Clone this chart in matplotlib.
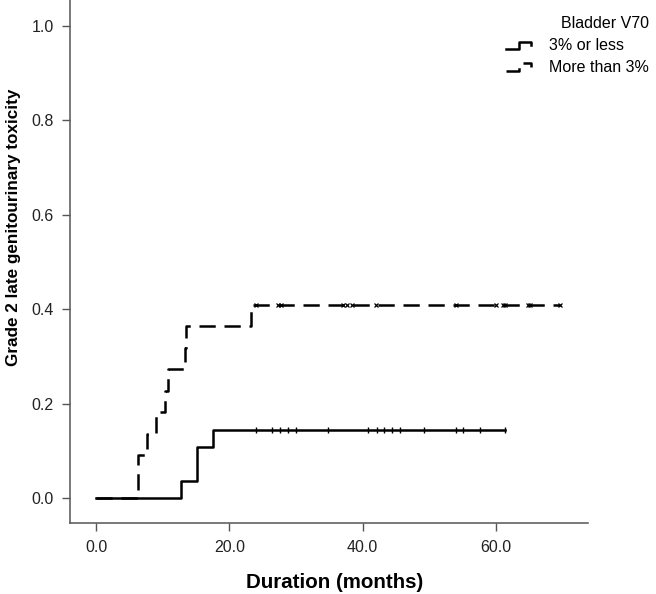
import numpy as np
import matplotlib.pyplot as plt
from matplotlib.lines import Line2D
from matplotlib.legend_handler import HandlerBase

plt.rcParams['font.family'] = ['Liberation Sans', 'DejaVu Sans']

# cumulative incidence, Bladder V70 <= 3%
low_t = [0, 12.7, 15.2, 17.6]
low_p = [0, 0.036, 0.107, 0.143]
low_end = 61.35
low_cens = [24.0, 26.35, 27.6, 28.85, 30.0, 34.85, 40.85, 42.1, 43.25,
            44.45, 45.6, 49.2, 53.95, 55.1, 57.6, 61.35]

# cumulative incidence, Bladder V70 > 3%
high_t = [0, 6.25, 7.6, 8.95, 10.3, 10.85, 13.3, 13.5, 23.25]
high_p = [0, 0.091, 0.136, 0.182, 0.227, 0.273, 0.318, 0.364, 0.409]
high_end = 69.6
high_cens = [24.0, 27.35, 27.75, 37.1, 37.6, 38.35, 42.0, 53.95, 60.0,
             61.1, 61.35, 64.85, 65.2, 69.6]

labels = ['3% or less', 'More than 3%']
xticks = [0, 20, 40, 60]
yticks = [0.0, 0.2, 0.4, 0.6, 0.8, 1.0]


def step_at(t, times, vals):
    # value of the step function at time t
    idx = np.searchsorted(times, t, side='right') - 1
    return np.array(vals)[idx]


class StepHandler(HandlerBase):
    # little step drawn in the legend, like the original
    def create_artists(self, legend, orig_handle, xdescent, ydescent,
                       width, height, fontsize, trans):
        x0, y0 = -xdescent, -ydescent
        xs = [x0, x0 + 0.5 * width, x0 + 0.5 * width, x0 + width, x0 + width]
        ys = [y0 + 0.1 * height, y0 + 0.1 * height, y0 + 0.75 * height,
              y0 + 0.75 * height, y0 + 0.45 * height]
        ln = Line2D(xs, ys, color=orig_handle.get_color(),
                    lw=orig_handle.get_linewidth(),
                    linestyle=orig_handle.get_linestyle())
        if orig_handle.get_linestyle() != '-':
            ln.set_dashes((6.5, 3.5))
        ln.set_transform(trans)
        return [ln]


fig = plt.figure(figsize=(6.56, 5.94), dpi=100)
ax = fig.add_axes([0.107, 0.1195, 0.789, 0.8805])

lw = 1.8
l1, = ax.step(low_t + [low_end], low_p + [low_p[-1]], where='post',
              color='black', lw=lw, label=labels[0])
l2, = ax.step(high_t + [high_end], high_p + [high_p[-1]], where='post',
              color='black', lw=lw, linestyle='--', dashes=(6.5, 3.5),
              label=labels[1])

ax.plot(low_cens, step_at(low_cens, low_t, low_p), linestyle='none',
        marker='|', ms=5, mew=1.0, color='black')
ax.plot(high_cens, step_at(high_cens, high_t, high_p), linestyle='none',
        marker='x', ms=3.5, mew=0.9, color='black')

ax.set_xlim(-3.9, 73.8)
ax.set_ylim(-0.053, 1.055)
ax.set_xticks(xticks)
ax.set_xticklabels(['%.1f' % v for v in xticks])
ax.set_yticks(yticks)
ax.set_yticklabels(['%.1f' % v for v in yticks])

for s in ['top', 'right']:
    ax.spines[s].set_visible(False)
for s in ['left', 'bottom']:
    ax.spines[s].set_color('#555555')
    ax.spines[s].set_linewidth(1.1)
ax.tick_params(length=6, width=1.0, color='#555555', labelsize=11.5,
               labelcolor='#222222', pad=6)

ax.set_xlabel('Duration (months)', fontsize=14.8, fontweight='bold')
ax.set_ylabel('Grade 2 late genitourinary toxicity', fontsize=12.3,
              fontweight='bold')
ax.xaxis.set_label_coords(0.51, -0.095)
ax.yaxis.set_label_coords(-0.095, 0.566)

leg = ax.legend(handles=[l1, l2], labels=labels, title='Bladder V70',
                loc='upper right', bbox_to_anchor=(1.0, 0.985),
                bbox_transform=fig.transFigure, frameon=False,
                fontsize=11.5, title_fontsize=11.5, handlelength=1.6,
                handletextpad=1.1, labelspacing=0.43, alignment='right',
                borderaxespad=0.0, borderpad=0.45,
                handler_map={Line2D: StepHandler()})

fig.savefig('out.png', dpi=100)
